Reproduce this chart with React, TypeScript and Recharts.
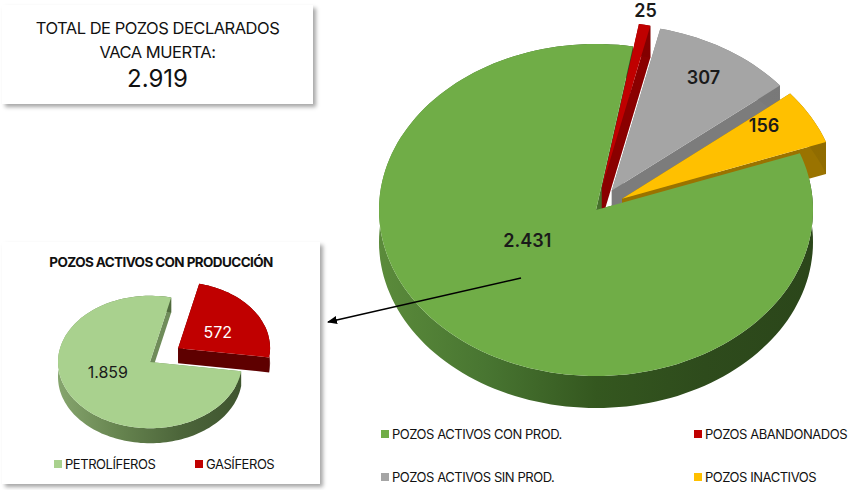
import React from 'react';
import { PieChart, Pie, Legend } from 'recharts';

// datos: pozos Vaca Muerta
const mainNames = ['POZOS ACTIVOS CON PROD.', 'POZOS ABANDONADOS', 'POZOS ACTIVOS SIN PROD.', 'POZOS INACTIVOS'];
const mainValues = [2431, 25, 307, 156];
const subNames = ['PETROLÍFEROS', 'GASÍFEROS'];
const subValues = [1859, 572];

const mainData = mainNames.map((name, i) => ({ name, value: mainValues[i] }));
const subData = subNames.map((name, i) => ({ name, value: subValues[i] }));
const total = mainValues.reduce((a, b) => a + b, 0);

const W = 848;
const H = 490;
const FONT = 'Inter, "Noto Sans", sans-serif';
const RAD = Math.PI / 180;

const fmt = (v: number) => String(v).replace(/\B(?=(\d{3})+(?!\d))/g, '.');

type Style3D = {
  id: string;
  tilt: number;
  depth: number;
  explode: number[];
  top: string[];
  wall: string[];
  side: string[][];
  labelR: number[];
  nudge: number[][];
  labelColor: string[];
  labelSize: number;
  labelWeight: number;
};

const bigStyle: Style3D = {
  id: 'big',
  tilt: 0.765,
  depth: 32,
  explode: [0, 30, 30, 30],
  top: ['#70ad47', '#c00000', '#a5a5a5', '#ffc000'],
  wall: ['#466f2b', '#8a0000', '#7c7c7c', '#9a7300'],
  side: [
    ['#5b8b3b', '#487531', '#34571f', '#2e4b1c', '#2b461a'],
    ['#900000', '#7a0000'],
    ['#858585', '#777777'],
    ['#a57c00', '#8f6b00'],
  ],
  labelR: [0.45, 1.09, 0.8, 0.8],
  nudge: [[-6, -27], [-3, 0], [0, 0], [-9, -8]],
  labelColor: ['#1a1a1a', '#1a1a1a', '#1a1a1a', '#1a1a1a'],
  labelSize: 18,
  labelWeight: 600,
};

const smallStyle: Style3D = {
  id: 'small',
  tilt: 0.72,
  depth: 15,
  explode: [0, 34],
  top: ['#a9d18e', '#c00000'],
  wall: ['#6f8c5a', '#5e0000'],
  side: [
    ['#86a56e', '#66844f', '#4c653a', '#3f552f'],
    ['#6e0404', '#560000'],
  ],
  labelR: [0.45, 0.55],
  nudge: [[-8, -7], [-2, 4]],
  labelColor: ['#1a1a1a', '#ffffff'],
  labelSize: 16,
  labelWeight: 400,
};

const ept = (cx: number, cy: number, rx: number, ry: number, deg: number) => [
  cx + rx * Math.cos(deg * RAD),
  cy - ry * Math.sin(deg * RAD),
];

const arcPts = (cx: number, cy: number, rx: number, ry: number, a1: number, a2: number) => {
  const n = Math.max(2, Math.ceil(Math.abs(a2 - a1) / 2) + 1);
  const out: number[][] = [];
  for (let i = 0; i < n; i++) out.push(ept(cx, cy, rx, ry, a1 + ((a2 - a1) * i) / (n - 1)));
  return out;
};

const pts = (arr: number[][]) => arr.map(p => `${p[0].toFixed(1)},${p[1].toFixed(1)}`).join(' ');

// elliptical slice from the sector the Pie computed
const sliceGeo = (props: any, s: Style3D) => {
  const { cx, cy, outerRadius, startAngle, endAngle, index } = props;
  const mid = props.midAngle ?? (startAngle + endAngle) / 2;
  const rx = outerRadius;
  const ry = outerRadius * s.tilt;
  const ex = s.explode[index] || 0;
  const ox = cx + ex * Math.cos(mid * RAD);
  const oy = cy - ex * s.tilt * Math.sin(mid * RAD);
  return { ox, oy, rx, ry, mid, arc: arcPts(ox, oy, rx, ry, startAngle, endAngle) };
};

const renderWalls = (s: Style3D) => (props: any) => {
  const i = props.index;
  const g = sliceGeo(props, s);
  const d = s.depth;
  const first = g.arc[0];
  const last = g.arc[g.arc.length - 1];
  const quad = (p: number[]) => [[g.ox, g.oy], p, [p[0], p[1] + d], [g.ox, g.oy + d]];
  const band = [...g.arc, ...g.arc.slice().reverse().map(p => [p[0], p[1] + d])];
  const gid = `${s.id}-side-${i}`;
  const stops = s.side[i];
  return (
    <g key={gid}>
      <defs>
        <linearGradient id={gid} gradientUnits="userSpaceOnUse" x1={g.ox - g.rx} x2={g.ox + g.rx} y1={0} y2={0}>
          {stops.map((c, k) => (
            <stop key={k} offset={k / (stops.length - 1)} stopColor={c} />
          ))}
        </linearGradient>
      </defs>
      <polygon points={pts(quad(first))} fill={s.wall[i]} />
      <polygon points={pts(quad(last))} fill={s.wall[i]} />
      <polygon points={pts(band)} fill={`url(#${gid})`} />
    </g>
  );
};

const renderTops = (s: Style3D) => (props: any) => {
  const i = props.index;
  const g = sliceGeo(props, s);
  const d = `M${g.ox.toFixed(1)},${g.oy.toFixed(1)} L${pts(g.arc).split(' ').join(' L')} Z`;
  const f = s.labelR[i];
  const lx = g.ox + g.rx * f * Math.cos(g.mid * RAD) + s.nudge[i][0];
  const ly = g.oy - g.ry * f * Math.sin(g.mid * RAD) + s.nudge[i][1];
  const v = props.value ?? props.payload?.value;
  return (
    <g key={`${s.id}-top-${i}`}>
      <path d={d} fill={s.top[i]} />
      <text
        x={lx}
        y={ly}
        textAnchor="middle"
        dominantBaseline="central"
        fill={s.labelColor[i]}
        fontFamily={FONT}
        fontSize={s.labelSize}
        fontWeight={s.labelWeight}
      >
        {fmt(v)}
      </text>
    </g>
  );
};

const legendText: React.CSSProperties = {
  fontFamily: FONT,
  fontSize: 13,
  color: '#111',
  letterSpacing: '-0.035em',
  whiteSpace: 'nowrap',
  position: 'absolute',
  lineHeight: '14px',
};

// legend payload may come sorted, so place items by their name
const MainLegend = (props: any) => {
  const cols = [381, 694];
  const rows = [434, 477];
  return (
    <div style={{ position: 'relative', height: 0 }}>
      {(props.payload || []).map((e: any) => {
        const i = mainNames.indexOf(e.value);
        const x = cols[i % 2];
        const y = rows[Math.floor(i / 2)];
        return (
          <React.Fragment key={e.value}>
            <div style={{ position: 'absolute', left: x, top: y - 4, width: 8, height: 8, background: bigStyle.top[i] }} />
            <div style={{ ...legendText, left: x + 11, top: y - 7 }}>{e.value}</div>
          </React.Fragment>
        );
      })}
    </div>
  );
};

const SubLegend = (props: any) => {
  const cols = [54, 195];
  const y = 464;
  return (
    <div style={{ position: 'relative', height: 0 }}>
      {(props.payload || []).map((e: any) => {
        const i = subNames.indexOf(e.value);
        return (
          <React.Fragment key={e.value}>
            <div style={{ position: 'absolute', left: cols[i], top: y - 4, width: 8, height: 8, background: smallStyle.top[i] }} />
            <div style={{ ...legendText, fontSize: 13, left: cols[i] + 11, top: y - 7 }}>{e.value}</div>
          </React.Fragment>
        );
      })}
    </div>
  );
};

const layer: React.CSSProperties = { position: 'absolute', left: 0, top: 0, pointerEvents: 'none' };
const M = { top: 0, right: 0, bottom: 0, left: 0 };

const App: React.FC = () => {
  const big = { cx: 596, cy: 210, outerRadius: 217, startAngle: 20, endAngle: -340 };
  const small = { cx: 150, cy: 362, outerRadius: 92, startAngle: -8, endAngle: -368 };

  return (
    <div style={{ position: 'absolute', left: 0, top: 0, width: W, height: H, background: '#fff', overflow: 'hidden', fontFamily: FONT }}>
      {/* total box */}
      <div
        style={{
          position: 'absolute', left: 2, top: 5, width: 311, height: 99, background: '#fff',
          boxShadow: '3px 3px 4px rgba(0,0,0,0.35)', textAlign: 'center', color: '#111',
        }}
      >
        <div style={{ position: 'absolute', top: 13, width: '100%', fontSize: 16.5, letterSpacing: '-0.03em', lineHeight: '20px' }}>TOTAL DE POZOS DECLARADOS</div>
        <div style={{ position: 'absolute', top: 37, width: '100%', fontSize: 16.5, letterSpacing: '-0.03em', lineHeight: '20px' }}>VACA MUERTA:</div>
        <div style={{ position: 'absolute', top: 60, width: '100%', fontSize: 24, lineHeight: '28px' }}>{fmt(total)}</div>
      </div>

      {/* inset box */}
      <div
        style={{
          position: 'absolute', left: 2, top: 242, width: 318, height: 242, background: '#fff',
          boxShadow: '3px 3px 4px rgba(0,0,0,0.35)',
        }}
      >
        <div style={{ position: 'absolute', top: 12, left: 0, width: 318, textAlign: 'center', fontSize: 13.5, fontWeight: 700, letterSpacing: '-0.045em', color: '#111' }}>
          POZOS ACTIVOS CON PRODUCCIÓN
        </div>
      </div>

      {/* main pie: walls then tops */}
      <div style={layer}>
        <PieChart width={W} height={H} margin={M}>
          <Pie data={mainData} dataKey="value" nameKey="name" {...big} fill="none" stroke="none" isAnimationActive={false} labelLine={false} label={renderWalls(bigStyle)} />
        </PieChart>
      </div>
      <div style={layer}>
        <PieChart width={W} height={H} margin={M}>
          <Pie data={mainData} dataKey="value" nameKey="name" {...big} fill="none" stroke="none" isAnimationActive={false} labelLine={false} label={renderTops(bigStyle)} />
          <Legend verticalAlign="top" align="left" wrapperStyle={{ left: 0, top: 0, width: W }} content={MainLegend} />
        </PieChart>
      </div>

      {/* inset pie */}
      <div style={layer}>
        <PieChart width={W} height={H} margin={M}>
          <Pie data={subData} dataKey="value" nameKey="name" {...small} fill="none" stroke="none" isAnimationActive={false} labelLine={false} label={renderWalls(smallStyle)} />
        </PieChart>
      </div>
      <div style={layer}>
        <PieChart width={W} height={H} margin={M}>
          <Pie data={subData} dataKey="value" nameKey="name" {...small} fill="none" stroke="none" isAnimationActive={false} labelLine={false} label={renderTops(smallStyle)} />
          <Legend verticalAlign="top" align="left" wrapperStyle={{ left: 0, top: 0, width: W }} content={SubLegend} />
        </PieChart>
      </div>

      {/* arrow from main slice to inset */}
      <svg width={W} height={H} style={layer}>
        <defs>
          <marker id="arrowHead" markerWidth="10" markerHeight="8" refX="9" refY="4" orient="auto" markerUnits="userSpaceOnUse">
            <path d="M0,0 L10,4 L0,8 Z" fill="#000" />
          </marker>
        </defs>
        <line x1={521} y1={278} x2={328} y2={322} stroke="#000" strokeWidth={1.6} markerEnd="url(#arrowHead)" />
      </svg>
    </div>
  );
};

export default App;
